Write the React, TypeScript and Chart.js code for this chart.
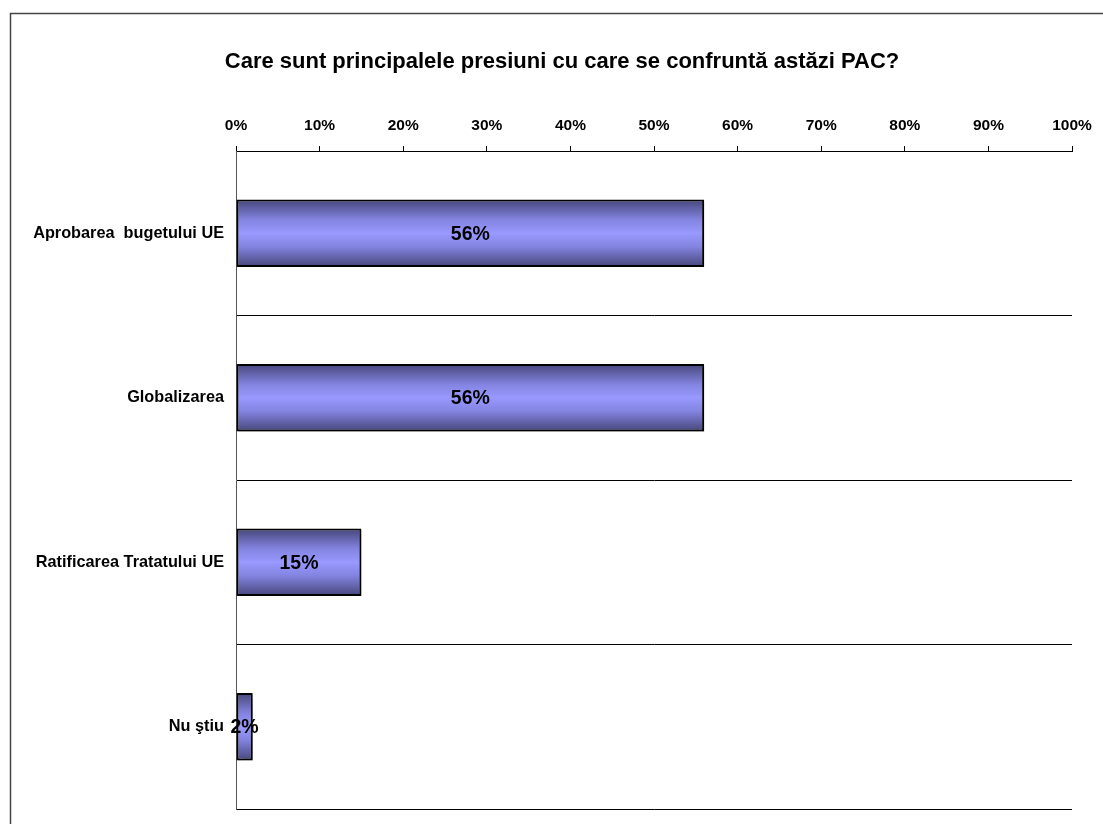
import React, { useEffect, useRef } from "react";
import { Chart, registerables } from "chart.js";

Chart.register(...registerables);

// Survey answers and their shares (%)
const categories: string[] = [
  "Aprobarea  bugetului UE",
  "Globalizarea",
  "Ratificarea Tratatului UE",
  "Nu ştiu",
];
const shares: number[] = [56, 56, 15, 2];
const titleText = "Care sunt principalele presiuni cu care se confruntă astăzi PAC?";
const axisTicks: number[] = [0, 10, 20, 30, 40, 50, 60, 70, 80, 90, 100];

const FONT = '"Liberation Sans", Arial, sans-serif';
const BAR_PCT = 0.41;

// Outer frame and the centered title
const framePlugin = {
  id: "frame",
  beforeDraw(chart: any) {
    const c = chart.ctx;
    c.save();
    c.fillStyle = "#ffffff";
    c.fillRect(0, 0, chart.width, chart.height);
    c.strokeStyle = "#444444";
    c.lineWidth = 1.5;
    c.beginPath();
    c.moveTo(10.5, chart.height);
    c.lineTo(10.5, 13.5);
    c.lineTo(chart.width, 13.5);
    c.stroke();
    c.fillStyle = "#000000";
    c.font = `bold 22px ${FONT}`;
    c.textAlign = "center";
    c.textBaseline = "alphabetic";
    c.fillText(titleText, 562, 68);
    c.restore();
  },
};

// Soft drop shadow under the bars
const shadowPlugin = {
  id: "barShadow",
  beforeDatasetsDraw(chart: any) {
    const c = chart.ctx;
    c.save();
    c.shadowColor = "rgba(0,0,0,0.35)";
    c.shadowOffsetX = 2;
    c.shadowOffsetY = 2;
    c.shadowBlur = 1;
  },
  afterDatasetsDraw(chart: any) {
    chart.ctx.restore();
  },
};

// Percentage written in the middle of each bar
const valueLabelPlugin = {
  id: "valueLabels",
  afterDatasetsDraw(chart: any) {
    const c = chart.ctx;
    const meta = chart.getDatasetMeta(0);
    c.save();
    c.fillStyle = "#000000";
    c.font = `bold 19.5px ${FONT}`;
    c.textAlign = "center";
    c.textBaseline = "middle";
    meta.data.forEach((bar: any, i: number) => {
      const x = (bar.x + bar.base) / 2;
      c.fillText(`${shares[i]}%`, x, bar.y + 1);
    });
    c.restore();
  },
};

function barGradient(ctx: any) {
  const chart = ctx.chart;
  const yScale = chart.scales?.y;
  if (!chart.chartArea || !yScale || ctx.type !== "data") return "#9999ff";
  const center = yScale.getPixelForValue(ctx.dataIndex);
  const half = ((yScale.bottom - yScale.top) / categories.length) * BAR_PCT / 2;
  const g = chart.ctx.createLinearGradient(0, center - half, 0, center + half);
  g.addColorStop(0, "#46467a");
  g.addColorStop(0.3, "#8383e0");
  g.addColorStop(0.5, "#9999ff");
  g.addColorStop(0.7, "#8383e0");
  g.addColorStop(1, "#46467a");
  return g;
}

export default function App() {
  const canvasRef = useRef<HTMLCanvasElement | null>(null);

  useEffect(() => {
    if (!canvasRef.current) return;
    const chart = new Chart(canvasRef.current, {
      type: "bar",
      data: {
        labels: categories,
        datasets: [
          {
            data: shares,
            backgroundColor: barGradient as any,
            borderColor: "#000000",
            borderWidth: 2,
            borderSkipped: false,
            barPercentage: BAR_PCT,
            categoryPercentage: 1,
          },
        ],
      },
      options: {
        indexAxis: "y",
        responsive: false,
        maintainAspectRatio: false,
        animation: false,
        layout: { padding: { left: 0, top: 0, right: 31, bottom: 15 } },
        plugins: {
          legend: { display: false },
          title: { display: false },
          tooltip: { enabled: false },
        },
        scales: {
          x: {
            type: "linear",
            position: "top",
            min: 0,
            max: 100,
            afterFit(scale: any) {
              scale.height = 151;
            },
            afterBuildTicks(scale: any) {
              scale.ticks = axisTicks.map((v) => ({ value: v }));
            },
            ticks: {
              callback: (v: any) => `${v}%`,
              color: "#000000",
              font: { family: FONT, size: 15.5, weight: "bold" },
              padding: 11,
              maxRotation: 0,
            },
            grid: {
              drawOnChartArea: false,
              drawTicks: true,
              tickLength: 5,
              color: "#000000",
              lineWidth: 1,
            },
            border: { display: true, color: "#000000", width: 1 },
          },
          y: {
            type: "category",
            afterFit(scale: any) {
              scale.width = 236;
              // labels sit inside their bands, so no overflow room is needed
              scale.paddingTop = 0;
              scale.paddingBottom = 0;
            },
            ticks: {
              color: "#000000",
              font: { family: FONT, size: 16.3, weight: "bold" },
              padding: 12,
            },
            grid: {
              offset: true,
              drawTicks: false,
              color: "#000000",
              lineWidth: 1,
            },
            border: { display: true, color: "#555555", width: 1 },
          },
        },
      },
      plugins: [framePlugin, shadowPlugin, valueLabelPlugin],
    });
    return () => chart.destroy();
  }, []);

  return (
    <div style={{ position: "absolute", left: 0, top: 0, width: 1103, height: 824 }}>
      <canvas ref={canvasRef} width={1103} height={824} />
    </div>
  );
}
